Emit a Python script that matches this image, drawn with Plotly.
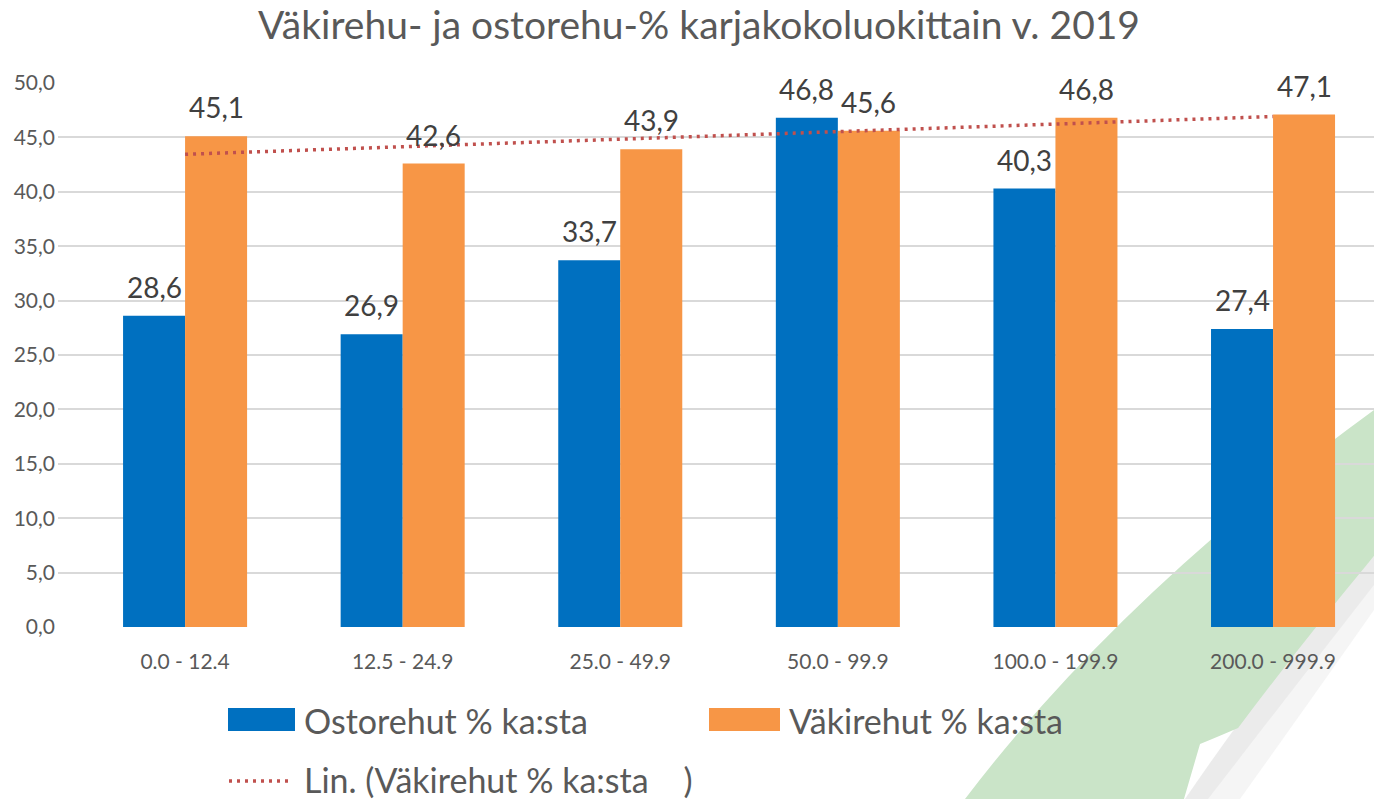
import numpy as np
import plotly.graph_objects as go

categories = ["0.0 - 12.4", "12.5 - 24.9", "25.0 - 49.9", "50.0 - 99.9", "100.0 - 199.9", "200.0 - 999.9"]
ostorehut = [28.6, 26.9, 33.7, 46.8, 40.3, 27.4]
vakirehut = [45.1, 42.6, 43.9, 45.6, 46.8, 47.1]
y_ticks = [0, 5, 10, 15, 20, 25, 30, 35, 40, 45, 50]

name_osto = "Ostorehut % ka:sta"
name_vaki = "Väkirehut % ka:sta"
name_trend = "Lin. (Väkirehut % ka:sta    )"
title_text = "Väkirehu- ja ostorehu-% karjakokoluokittain v. 2019"

BLUE = "#0070C0"
ORANGE = "#F79646"
RED = "#C0504D"
TXT = "#595959"
LBL = "#404040"
FONT = "Lato"

W, H = 1374, 799
ML, MR, MT, MB = 58, 0, 83, 172
PW, PH = W - ML - MR, H - MT - MB


def fmt(v):
    return f"{v:.1f}".replace(".", ",")


# linear trend of Väkirehut over category index
idx = np.arange(1, len(vakirehut) + 1)
slope, intercept = np.polyfit(idx, vakirehut, 1)
trend = slope * idx + intercept

fig = go.Figure()
fig.add_trace(go.Bar(x=categories, y=ostorehut, name=name_osto, marker=dict(color=BLUE, line=dict(width=0))))
fig.add_trace(go.Bar(x=categories, y=vakirehut, name=name_vaki, marker=dict(color=ORANGE, line=dict(width=0))))
fig.add_trace(go.Scatter(x=categories, y=trend, name=name_trend, mode="lines",
                         line=dict(color=RED, width=3.5, dash="3px,5px")))


def lx(px):
    return (px - ML) / PW


def ly(py):
    return (MT + PH - py) / PH


def path_from(cmds):
    s = ""
    for c, pts in cmds:
        s += c + " " + " ".join(f"{lx(x):.4f},{ly(y):.4f}" for x, y in pts) + " "
    return s + "Z"


# decorative background swoosh (slide template)
shadow_outer = path_from([
    ("M", [(1374, 556)]),
    ("Q", [(1280, 660), (1185, 799)]),
    ("L", [(1240, 799)]),
    ("Q", [(1318, 690), (1374, 610)]),
])
shadow_inner = path_from([
    ("M", [(1374, 556)]),
    ("Q", [(1280, 660), (1185, 799)]),
    ("L", [(1208, 799)]),
    ("Q", [(1300, 680), (1374, 585)]),
])
green = path_from([
    ("M", [(1374, 410)]),
    ("Q", [(1120, 595), (965, 799)]),
    ("L", [(1184, 799)]),
    ("L", [(1200, 744)]),
    ("Q", [(1215, 738), (1238, 728)]),
    ("Q", [(1300, 645), (1374, 556)]),
])

shapes = [
    dict(type="path", path=shadow_outer, xref="paper", yref="paper", layer="below",
         fillcolor="rgba(225,225,225,0.35)", line=dict(width=0)),
    dict(type="path", path=shadow_inner, xref="paper", yref="paper", layer="below",
         fillcolor="rgba(225,225,225,0.45)", line=dict(width=0)),
    dict(type="path", path=green, xref="paper", yref="paper", layer="below",
         fillcolor="#CAE4C8", line=dict(width=0)),
]

annotations = []
for c, v in zip(categories, ostorehut):
    annotations.append(dict(x=c, y=v, xref="x", yref="y", text=fmt(v), showarrow=False,
                            xshift=-31, yshift=10, yanchor="bottom",
                            font=dict(family=FONT, size=28, color=LBL)))
for c, v in zip(categories, vakirehut):
    annotations.append(dict(x=c, y=v, xref="x", yref="y", text=fmt(v), showarrow=False,
                            xshift=31, yshift=10, yanchor="bottom",
                            font=dict(family=FONT, size=28, color=LBL)))

# custom legend (large keys as in the reference)
shapes.append(dict(type="rect", xref="paper", yref="paper", x0=lx(228), x1=lx(295), y0=ly(731), y1=ly(708),
                   fillcolor=BLUE, line=dict(width=0)))
shapes.append(dict(type="rect", xref="paper", yref="paper", x0=lx(709), x1=lx(780), y0=ly(731), y1=ly(708),
                   fillcolor=ORANGE, line=dict(width=0)))
shapes.append(dict(type="line", xref="paper", yref="paper", x0=lx(229), x1=lx(290), y0=ly(781), y1=ly(781),
                   line=dict(color=RED, width=3.5, dash="3px,5px")))
for px, py, t in [(302, 720, name_osto), (787, 720, name_vaki), (302, 779, name_trend)]:
    annotations.append(dict(x=lx(px), y=ly(py), xref="paper", yref="paper", text=t, showarrow=False,
                            xanchor="left", yanchor="middle",
                            font=dict(family=FONT, size=34, color=TXT)))

fig.update_layout(
    width=W, height=H,
    margin=dict(l=ML, r=MR, t=MT, b=MB),
    paper_bgcolor="white", plot_bgcolor="rgba(0,0,0,0)",
    title=dict(text=title_text, x=lx(699), xref="paper", xanchor="center", y=1 - 25 / H, yanchor="middle",
               font=dict(family=FONT, size=39, color=TXT)),
    barmode="group", bargap=0.43, bargroupgap=0,
    showlegend=False,
    shapes=shapes,
    annotations=annotations,
    xaxis=dict(range=[-0.584, 5.464], showgrid=False, zeroline=False, showline=False,
               tickfont=dict(family=FONT, size=21, color=TXT), ticks="", ticklabelstandoff=20),
    yaxis=dict(range=[0, 50], tickvals=y_ticks, ticktext=[fmt(v) for v in y_ticks],
               showgrid=True, gridcolor="#D9D9D9", gridwidth=2, zeroline=False, showline=False,
               tickfont=dict(family=FONT, size=21, color=TXT), ticks="", ticklabelstandoff=2),
)

fig.write_html("out.html", config={"displayModeBar": False},
               post_script="document.body.style.margin='0';document.body.style.overflow='hidden';")
